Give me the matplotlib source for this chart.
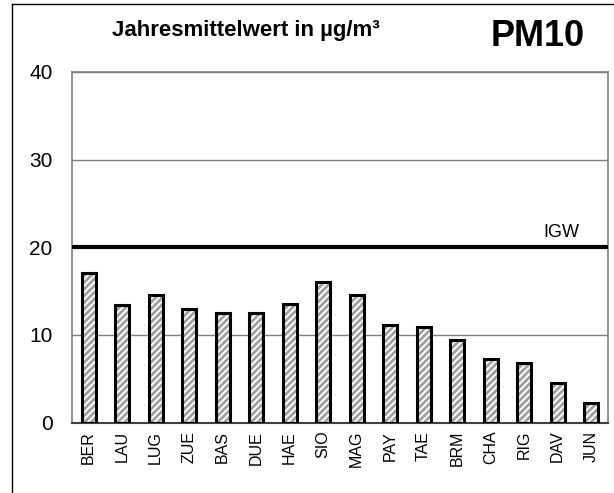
import matplotlib.pyplot as plt
from matplotlib.lines import Line2D
import numpy as np

plt.rcParams['font.family'] = ['Liberation Sans', 'DejaVu Sans']
plt.rcParams['hatch.linewidth'] = 2.0

stations = ["BER", "LAU", "LUG", "ZUE", "BAS", "DUE", "HAE", "SIO",
            "MAG", "PAY", "TAE", "BRM", "CHA", "RIG", "DAV", "JUN"]
pm10 = [17.1, 13.4, 14.5, 12.9, 12.5, 12.5, 13.5, 16.0,
        14.5, 11.1, 10.9, 9.4, 7.3, 6.8, 4.5, 2.2]
igw = 20  # Immissionsgrenzwert

fig = plt.figure(figsize=(6.14, 4.93), dpi=100)
ax = fig.add_axes([0.117, 0.143, 0.873, 0.711])

x = np.arange(len(stations))
# hatched fill first, then the black outline on top
ax.bar(x, pm10, width=0.42, color="white", edgecolor="#a0a0a0",
       hatch="/////", linewidth=0, zorder=2)
ax.bar(x, pm10, width=0.42, fill=False, edgecolor="black",
       linewidth=2.2, zorder=3)

ax.axhline(igw, color="black", linewidth=3, zorder=4)
ax.text(14.66, igw + 0.75, "IGW", ha="right", va="bottom", fontsize=13)

ax.set_xlim(-0.5, len(stations) - 0.5)
ax.set_ylim(0, 40)
ax.set_yticks([0, 10, 20, 30, 40])
ax.yaxis.grid(True, color="#808080", linewidth=1)
ax.set_axisbelow(True)
ax.set_xticks(x)
ax.set_xticklabels(stations, rotation=90, fontsize=11.5)
ax.tick_params(axis="x", length=0, pad=6)
ax.tick_params(axis="y", length=0, pad=14, labelsize=15)

for s in ["top", "right", "left"]:
    ax.spines[s].set_color("#808080")
    ax.spines[s].set_linewidth(1.2)
ax.spines["bottom"].set_color("#404040")
ax.spines["bottom"].set_linewidth(1.5)

fig.text(0.40, 0.938, "Jahresmittelwert in µg/m³", ha="center", va="center",
         fontsize=16, fontweight="bold")
fig.text(0.875, 0.925, "PM10", ha="center", va="center",
         fontsize=26, fontweight="bold")

# frame around the figure (left and top edges)
fig.add_artist(Line2D([0.02, 0.02], [0.0, 0.992], color="black",
                      linewidth=1, transform=fig.transFigure))
fig.add_artist(Line2D([0.02, 1.0], [0.992, 0.992], color="black",
                      linewidth=1, transform=fig.transFigure))

fig.savefig("out.png", dpi=100)
